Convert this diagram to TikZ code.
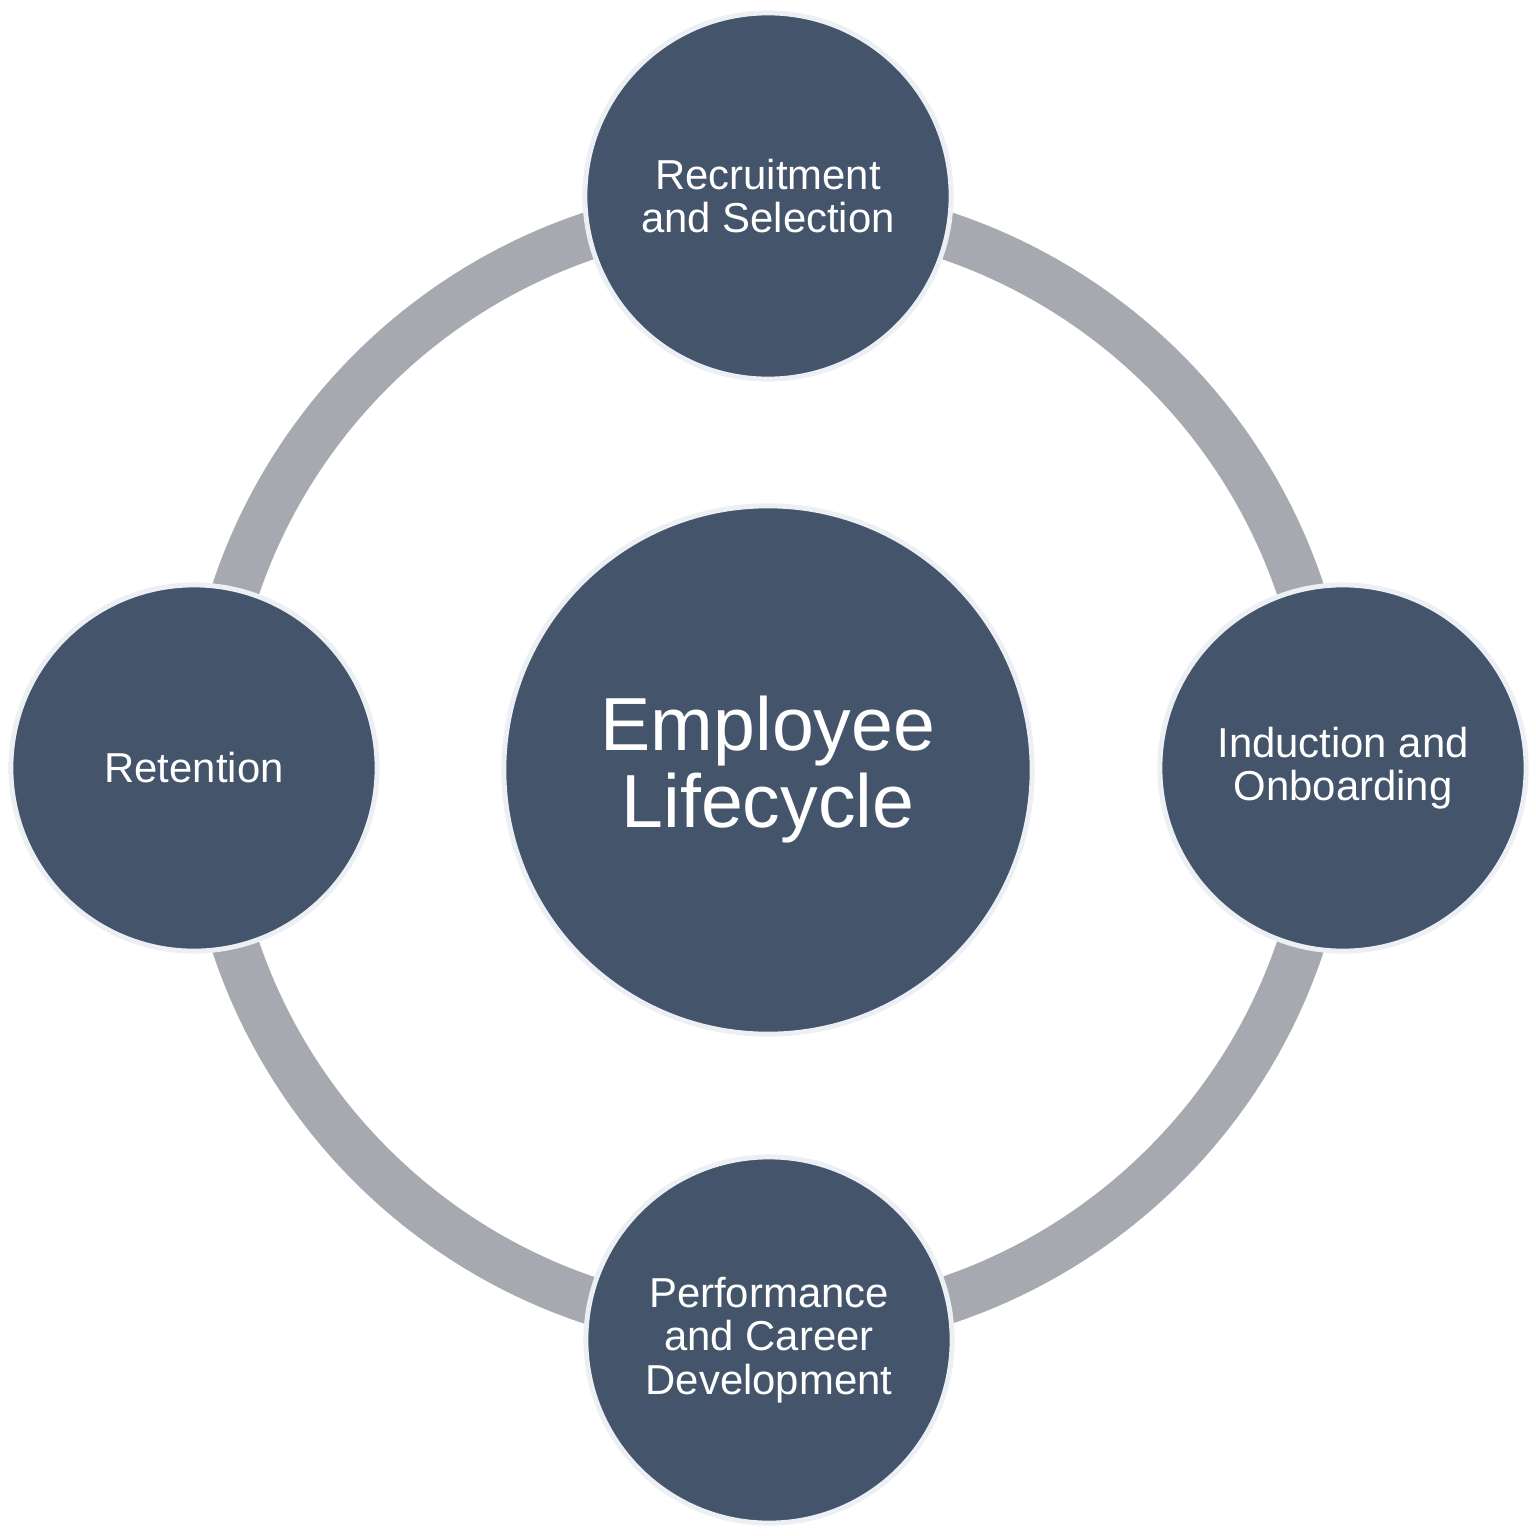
\documentclass[tikz,border=0pt]{standalone}
\usepackage{fontspec}
\setmainfont{Liberation Sans}
\definecolor{nodeblue}{RGB}{68,84,107}
\definecolor{ringgray}{RGB}{167,169,176}
\definecolor{rimwhite}{RGB}{236,239,244}
\tikzset{
  px/.style={x=0.01cm,y=-0.01cm},
  hub/.style={circle,fill=nodeblue,draw=rimwhite,line width=1.4pt,
    minimum size=5.28cm,inner sep=0pt,outer sep=0pt,text=white,align=center,
    font=\fontsize{21.4}{21.9}\selectfont},
  stage/.style={circle,fill=nodeblue,draw=rimwhite,line width=1.4pt,
    minimum size=3.66cm,inner sep=0pt,outer sep=0pt,text=white,align=center,
    font=\fontsize{11.9}{12.3}\selectfont},
  ringband/.style={draw=ringgray,line width=13.5pt}
}
\begin{document}
\begin{tikzpicture}[px]
\useasboundingbox (0,0) rectangle (1536,1536);
\fill[white] (0,0) rectangle (1536,1536);
\coordinate (mid) at (768,768);
\draw[ringband] (mid) circle (5.61cm);
\node[hub] (ctr) at (768,770) {Employee\\Lifecycle};
\node[stage] (rec) at (768,196) {Recruitment\\and Selection};
\node[stage] (ind) at (1343,768) {Induction and\\Onboarding};
\node[stage] (perf) at (769,1340) {Performance\\and Career\\Development};
\node[stage] (ret) at (194,768) {Retention};
\end{tikzpicture}
\end{document}
